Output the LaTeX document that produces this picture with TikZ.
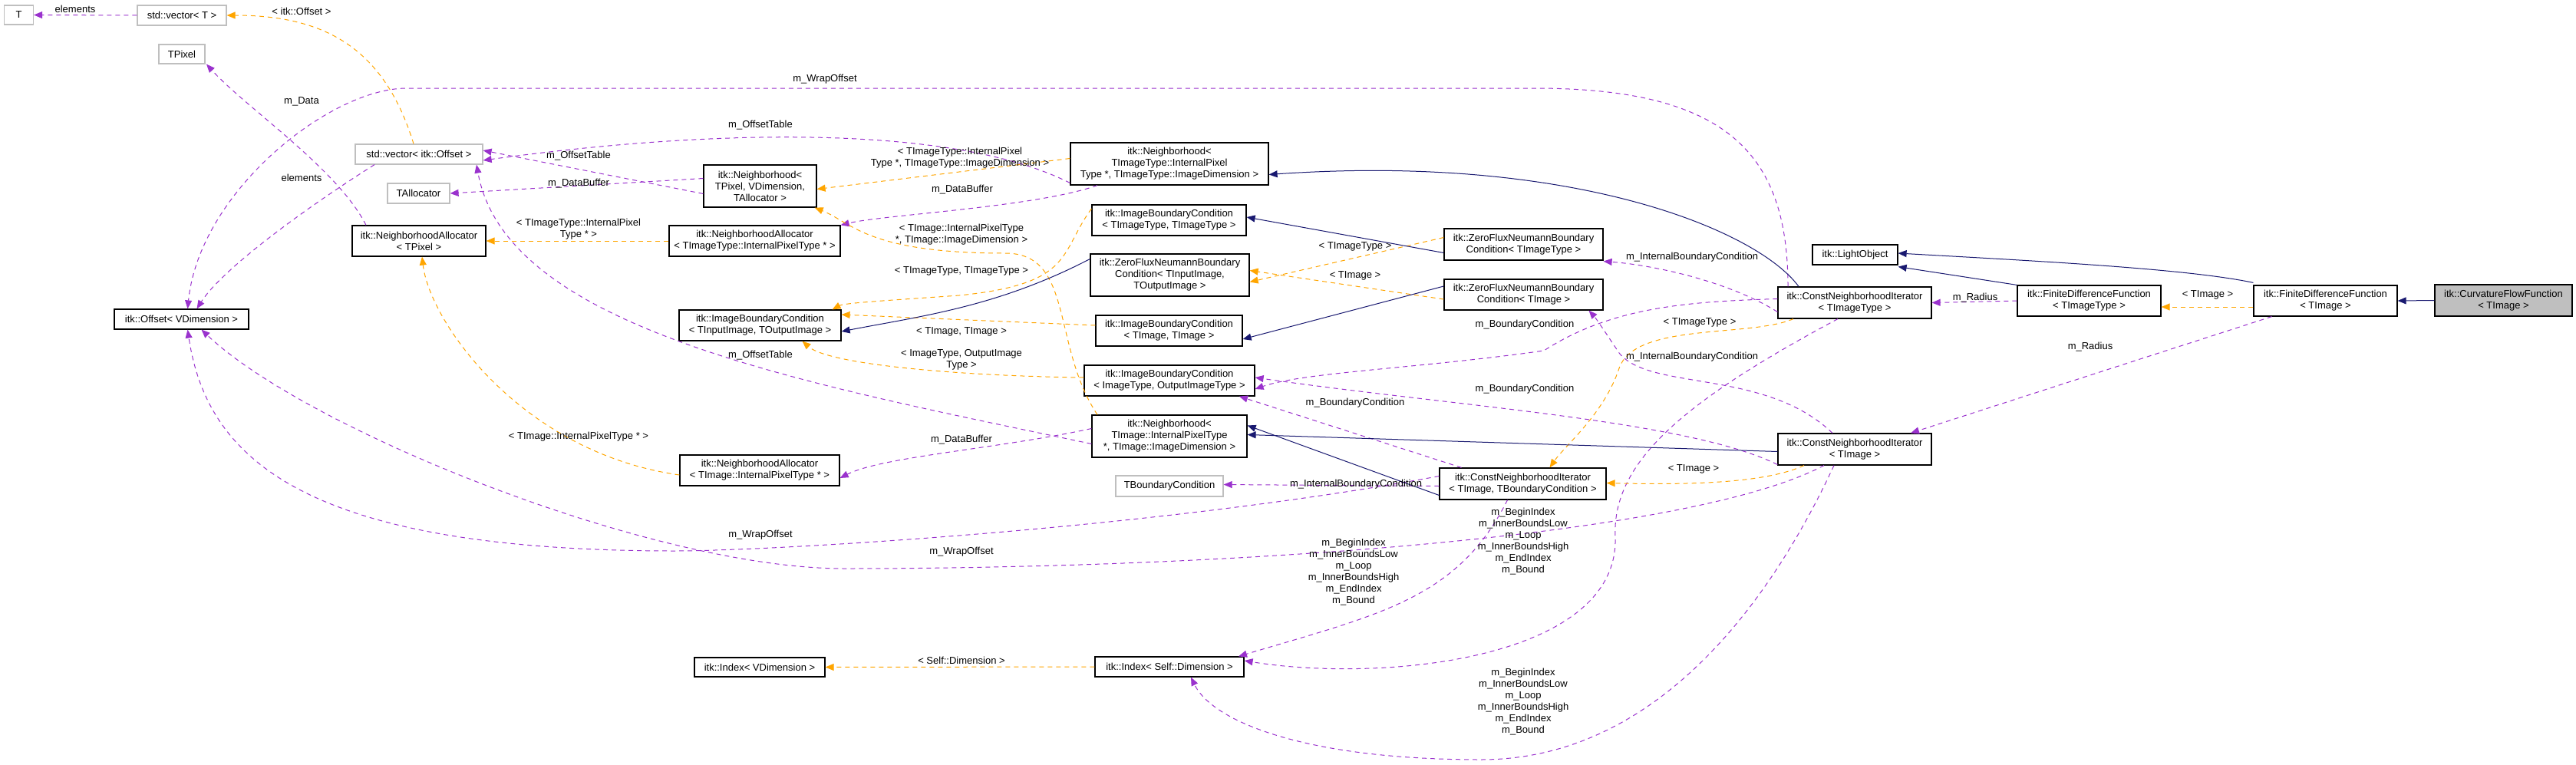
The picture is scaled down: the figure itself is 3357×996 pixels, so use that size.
\documentclass[tikz,border=0pt]{standalone}
\usepackage{fontspec}
\setmainfont{Liberation Sans}
\usetikzlibrary{arrows.meta}
\definecolor{usec}{HTML}{9A32CD}
\definecolor{instc}{HTML}{FFA500}
\definecolor{inhc}{HTML}{191970}
\tikzset{
 box/.style={draw=black,line width=1.2pt,fill=white,inner sep=0pt,align=center,font=\fontsize{13}{15}\selectfont},
 gbox/.style={box,draw=black!25},
 usee/.style={draw=usec,dash pattern=on 6pt off 5pt,line width=1pt,-{Triangle[length=11pt,width=9pt,fill=usec]}},
 inst/.style={draw=instc,dash pattern=on 6pt off 5pt,line width=1pt,-{Triangle[length=11pt,width=9pt,fill=instc]}},
 inh/.style={draw=inhc,line width=1pt,-{Triangle[length=11pt,width=9pt,fill=inhc]}},
 lbl/.style={inner sep=0pt,align=center,font=\fontsize{13}{15}\selectfont}
}
\begin{document}
\begin{tikzpicture}[x=1pt,y=-1pt]
\useasboundingbox (0,0) rectangle (3357,996);
% nodes
\node[gbox,minimum width=38,minimum height=25] (T) at (24.5,19.5) {T};
\node[gbox,minimum width=116,minimum height=26] (vecT) at (237,20) {std::vector< T >};
\node[gbox,minimum width=60,minimum height=25] (TPixel) at (237,70.5) {TPixel};
\node[gbox,minimum width=166,minimum height=26] (vecOff) at (546,201) {std::vector< itk::Offset >};
\node[gbox,minimum width=81,minimum height=26] (TAlloc) at (545.5,252) {TAllocator};
\node[box,minimum width=147,minimum height=55] (NbTPixel) at (990.5,242.5) {itk::Neighborhood<\\ TPixel, VDimension,\\ TAllocator >};
\node[box,minimum width=174,minimum height=40] (AllocTPixel) at (546,314) {itk::NeighborhoodAllocator\\< TPixel >};
\node[box,minimum width=223,minimum height=40] (AllocTIT) at (983.5,314) {itk::NeighborhoodAllocator\\< TImageType::InternalPixelType * >};
\node[box,minimum width=175,minimum height=26] (Offset) at (236.5,416) {itk::Offset< VDimension >};
\node[box,minimum width=211,minimum height=40] (IBCInOut) at (990.5,424) {itk::ImageBoundaryCondition\\< TInputImage, TOutputImage >};
\node[box,minimum width=258,minimum height=55] (NbTIT) at (1524,213.5) {itk::Neighborhood<\\ TImageType::InternalPixel\\Type *, TImageType::ImageDimension >};
\node[box,minimum width=201,minimum height=40] (IBCTT) at (1523.5,287) {itk::ImageBoundaryCondition\\< TImageType, TImageType >};
\node[box,minimum width=207,minimum height=55] (ZFInOut) at (1524.5,358.5) {itk::ZeroFluxNeumannBoundary\\Condition< TInputImage,\\ TOutputImage >};
\node[box,minimum width=191,minimum height=40] (IBCTI) at (1523.5,431) {itk::ImageBoundaryCondition\\< TImage, TImage >};
\node[box,minimum width=222,minimum height=40] (IBCIO) at (1524,496) {itk::ImageBoundaryCondition\\< ImageType, OutputImageType >};
\node[box,minimum width=202,minimum height=55] (NbTI) at (1524,568.5) {itk::Neighborhood<\\ TImage::InternalPixelType\\ *, TImage::ImageDimension >};
\node[box,minimum width=208,minimum height=40] (AllocTI) at (990,613) {itk::NeighborhoodAllocator\\< TImage::InternalPixelType * >};
\node[gbox,minimum width=140,minimum height=27] (TBC) at (1524,633.5) {TBoundaryCondition};
\node[box,minimum width=194,minimum height=26] (Index) at (1524,869) {itk::Index< Self::Dimension >};
\node[box,minimum width=170,minimum height=25] (IndexV) at (990,869.5) {itk::Index< VDimension >};
\node[box,minimum width=207,minimum height=41] (ZFTT) at (1985.5,318.5) {itk::ZeroFluxNeumannBoundary\\Condition< TImageType >};
\node[box,minimum width=207,minimum height=40] (ZFTI) at (1985.5,384) {itk::ZeroFluxNeumannBoundary\\Condition< TImage >};
\node[box,minimum width=217,minimum height=41] (ItTBC) at (1984.5,630.5) {itk::ConstNeighborhoodIterator\\< TImage, TBoundaryCondition >};
\node[box,minimum width=111,minimum height=26] (Light) at (2417.5,332) {itk::LightObject};
\node[box,minimum width=200,minimum height=41] (ItTT) at (2417,394.5) {itk::ConstNeighborhoodIterator\\< TImageType >};
\node[box,minimum width=200,minimum height=41] (ItTI) at (2417,585.5) {itk::ConstNeighborhoodIterator\\< TImage >};
\node[box,minimum width=187,minimum height=40] (FDFTT) at (2722.5,392) {itk::FiniteDifferenceFunction\\< TImageType >};
\node[box,minimum width=187,minimum height=40] (FDFTI) at (3030.5,392) {itk::FiniteDifferenceFunction\\< TImage >};
\node[box,fill=black!25,minimum width=179,minimum height=41] (CFF) at (3262.5,391.5) {itk::CurvatureFlowFunction\\< TImage >};
% usage edges
\draw[usee] (vecT.west) -- (T.east);
\draw[usee] ([xshift=-58]vecOff.south) .. controls (400,270) and (290,350) .. ([xshift=20]Offset.north);
\draw[usee] ([xshift=-69]AllocTPixel.north) .. controls (440,220) and (320,140) .. ([xshift=32]TPixel.south);
\draw[usee] ([yshift=-10]NbTPixel.west) -- ([yshift=5]vecOff.east);
\draw[usee] ([yshift=10]NbTPixel.west) -- (TAlloc.east);
\draw[usee] ([yshift=-25]NbTIT.west) .. controls (1250,165) and (950,165) .. ([yshift=-8]vecOff.east);
\draw[usee] ([xshift=-94]NbTIT.south) .. controls (1350,270) and (1150,280) .. (AllocTIT.north east);
\draw[usee] ([yshift=10]NbTI.west) .. controls (1300,585) and (1150,595) .. ([yshift=-10]AllocTI.east);
\draw[usee] ([yshift=-10]NbTI.west) .. controls (1050,500) and (660,430) .. ([xshift=75]vecOff.south);
\draw[usee] ([xshift=-87]ItTT.north) .. controls (2330,200) and (2250,115) .. (2000,115) -- (530,115) .. controls (430,115) and (260,250) .. ([xshift=8]Offset.north);
\draw[usee] ([yshift=10]ItTBC.west) .. controls (1500,690) and (1000,718) .. (880,718) .. controls (400,718) and (270,600) .. ([xshift=8]Offset.south);
\draw[usee] ([xshift=-40]ItTI.south) .. controls (2200,700) and (1600,741) .. (1100,741) .. controls (850,741) and (400,560) .. ([xshift=26]Offset.south);
\draw[usee] ([yshift=-3]ItTBC.west) -- ([yshift=2]TBC.east);
\draw[usee] ([xshift=-20]ItTBC.south) .. controls (1900,780) and (1800,800) .. ([xshift=90]Index.north);
\draw[usee] ([xshift=-22]ItTT.south) .. controls (2200,520) and (2100,600) .. (2105,700) .. controls (2110,860) and (1800,890) .. ([yshift=8]Index.east);
\draw[usee] ([xshift=-27]ItTI.south) .. controls (2300,800) and (2150,990) .. (1930,990) .. controls (1700,990) and (1580,940) .. ([xshift=28]Index.south);
\draw[usee] ([yshift=-12]ItTT.west) .. controls (2250,365) and (2150,345) .. ([yshift=-1]ZFTT.south east);
\draw[usee] ([xshift=-29]ItTI.north) .. controls (2300,480) and (2150,510) .. (2110,460) .. controls (2090,430) and (2080,415) .. ([xshift=85]ZFTI.south);
\draw[usee] ([yshift=5]ItTT.west) .. controls (2200,393) and (2100,400) .. (2012,457) .. controls (1850,480) and (1700,485) .. ([yshift=-11]IBCIO.east);
\draw[usee] ([yshift=-20]ItTI.west) .. controls (2200,548) and (1900,530) .. ([yshift=4]IBCIO.east);
\draw[usee] ([xshift=-80]ItTBC.north) -- ([xshift=91]IBCIO.south);
\draw[usee] (FDFTT.west) -- (ItTT.east);
\draw[usee] ([xshift=-70]FDFTI.south) -- ([xshift=73]ItTI.north);
% instantiation edges
\draw[inst] ([xshift=-7]vecOff.north) .. controls (500,60) and (420,20) .. (vecT.east);
\draw[inst] ([yshift=7]NbTIT.west) -- ([yshift=-4]NbTPixel.east);
\draw[inst] ([xshift=-94]NbTI.north) .. controls (1370,450) and (1400,330) .. (1310,330) .. controls (1130,330) and (1110,290) .. ([xshift=-3]NbTPixel.south east);
\draw[inst] (AllocTIT.west) -- (AllocTPixel.east);
\draw[inst] ([yshift=-6]AllocTI.west) .. controls (680,590) and (560,420) .. ([xshift=4]AllocTPixel.south);
\draw[inst] ([yshift=15]IBCTT.west) .. controls (1380,330) and (1400,370) .. (1250,385) .. controls (1150,392) and (1100,395) .. ([xshift=-12]IBCInOut.north east);
\draw[inst] ([yshift=7]IBCTI.west) -- ([yshift=14]IBCInOut.east);
\draw[inst] ([yshift=4]IBCIO.west) .. controls (1250,490) and (1080,475) .. ([xshift=55]IBCInOut.south);
\draw[inst] ([yshift=9]ZFTT.west) -- ([yshift=-9]ZFInOut.east);
\draw[inst] ([yshift=-6]ZFTI.west) -- ([yshift=6]ZFInOut.east);
\draw[inst] ([xshift=-80]ItTT.south) .. controls (2280,440) and (2130,420) .. (2110,480) .. controls (2090,540) and (2040,580) .. ([xshift=35]ItTBC.north);
\draw[inst] ([xshift=-66]ItTI.south) .. controls (2300,630) and (2200,632) .. ([yshift=1]ItTBC.east);
\draw[inst] ([yshift=-8]FDFTI.west) -- ([yshift=-8]FDFTT.east);
\draw[inst] (Index.west) -- (IndexV.east);
% inheritance edges
\draw[inh] ([xshift=-73]ItTT.north) .. controls (2290,300) and (2050,200) .. ([yshift=-14]NbTIT.east);
\draw[inh] ([yshift=-11]ZFTT.west) -- ([yshift=4]IBCTT.east);
\draw[inh] ([yshift=21]ZFInOut.west) .. controls (1300,400) and (1200,412) .. ([yshift=-8]IBCInOut.east);
\draw[inh] ([yshift=11]ZFTI.west) -- ([yshift=-11]IBCTI.east);
\draw[inh] ([yshift=-3]ItTI.west) -- ([yshift=2]NbTI.east);
\draw[inh] ([yshift=-15]ItTBC.west) -- ([yshift=14]NbTI.east);
\draw[inh] (FDFTT.north west) -- ([yshift=-2]Light.south east);
\draw[inh] ([yshift=3]FDFTI.north west) .. controls (2850,350) and (2650,340) .. ([yshift=2]Light.east);
\draw[inh] (CFF.west) -- (FDFTI.east);
% labels
\node[lbl] (l1) at (98,12) {elements};
\node[lbl] (la) at (393,15) {< itk::Offset >};
\node[lbl] (l3) at (393,132) {m\_Data};
\node[lbl] (l2) at (393,232) {elements};
\node[lbl] (l10) at (1075,103) {m\_WrapOffset};
\node[lbl] (l6) at (991,163) {m\_OffsetTable};
\node[lbl] (l4) at (754,203) {m\_OffsetTable};
\node[lbl] (l5) at (754,239) {m\_DataBuffer};
\node[lbl] (ld) at (754,299) {< TImageType::InternalPixel\\Type * >};
\node[lbl] (lb) at (1251,206) {< TImageType::InternalPixel\\Type *, TImageType::ImageDimension >};
\node[lbl] (l7) at (1254,247) {m\_DataBuffer};
\node[lbl] (lc) at (1253,306) {< TImage::InternalPixelType\\*, TImage::ImageDimension >};
\node[lbl] (lf) at (1253,353) {< TImageType, TImageType >};
\node[lbl] (lg) at (1253,432) {< TImage, TImage >};
\node[lbl] (lh) at (1253,469) {< ImageType, OutputImage\\Type >};
\node[lbl] (l9) at (991,463) {m\_OffsetTable};
\node[lbl] (le) at (754,569) {< TImage::InternalPixelType * >};
\node[lbl] (l8) at (1253,573) {m\_DataBuffer};
\node[lbl] (l11a) at (991,697) {m\_WrapOffset};
\node[lbl] (l11b) at (1253,719) {m\_WrapOffset};
\node[lbl] (l12) at (1767,631) {m\_InternalBoundaryCondition};
\node[lbl] (l13) at (1764,746) {m\_BeginIndex\\m\_InnerBoundsLow\\m\_Loop\\m\_InnerBoundsHigh\\m\_EndIndex\\m\_Bound};
\node[lbl] (l14) at (1985,706) {m\_BeginIndex\\m\_InnerBoundsLow\\m\_Loop\\m\_InnerBoundsHigh\\m\_EndIndex\\m\_Bound};
\node[lbl] (l15) at (1985,915) {m\_BeginIndex\\m\_InnerBoundsLow\\m\_Loop\\m\_InnerBoundsHigh\\m\_EndIndex\\m\_Bound};
\node[lbl] (ln) at (1253,861) {< Self::Dimension >};
\node[lbl] (li) at (1766,321) {< TImageType >};
\node[lbl] (lj) at (1766,359) {< TImage >};
\node[lbl] (l16) at (2205,335) {m\_InternalBoundaryCondition};
\node[lbl] (l17) at (2205,465) {m\_InternalBoundaryCondition};
\node[lbl] (l18) at (1987,423) {m\_BoundaryCondition};
\node[lbl] (l19) at (1987,507) {m\_BoundaryCondition};
\node[lbl] (l20) at (1766,525) {m\_BoundaryCondition};
\node[lbl] (lk) at (2215,420) {< TImageType >};
\node[lbl] (ll) at (2207,611) {< TImage >};
\node[lbl] (l21) at (2574,388) {m\_Radius};
\node[lbl] (l22) at (2724,452) {m\_Radius};
\node[lbl] (lm) at (2877,384) {< TImage >};
\end{tikzpicture}
\end{document}
